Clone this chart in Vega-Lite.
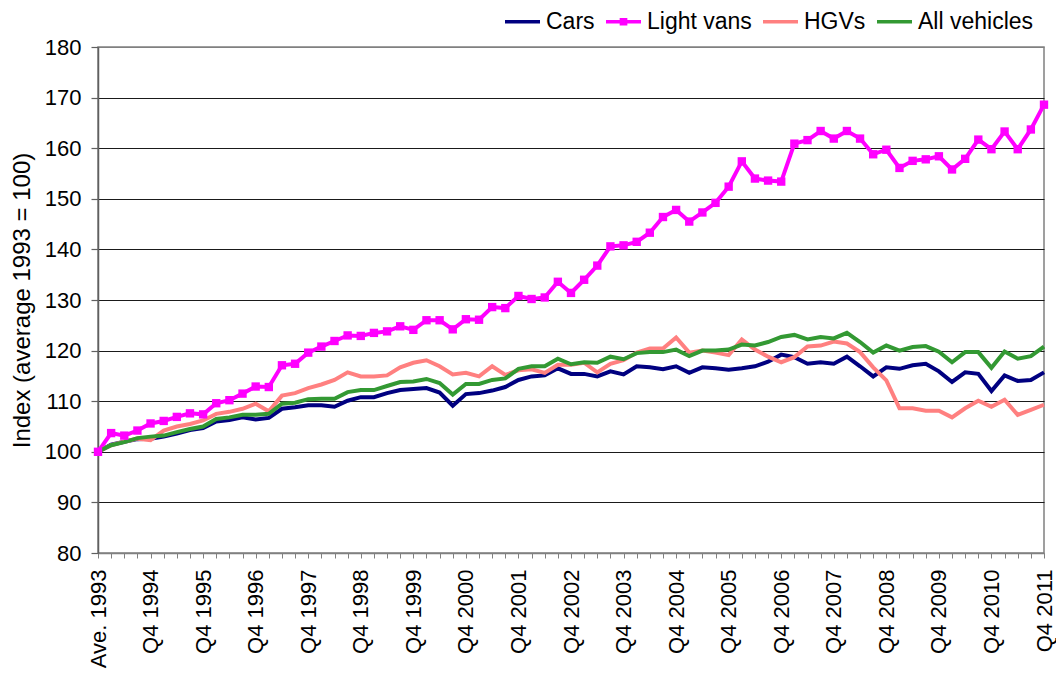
{
  "$schema": "https://vega.github.io/schema/vega-lite/v6.json",
  "width": 946,
  "height": 506,
  "autosize": "none",
  "padding": {"left": 98, "top": 47, "right": 12, "bottom": 120},
  "background": "white",
  "config": {"view": {"stroke": "#808080", "strokeWidth": 1.5}, "font": "Liberation Sans"},
  "data": {"values": [
    {"q": "Ave. 1993", "Cars": 100, "Light vans": 100, "HGVs": 100, "All vehicles": 100},
    {"q": "Q1 1994", "Cars": 101.4, "Light vans": 103.7, "HGVs": 101.3, "All vehicles": 101.3},
    {"q": "Q2 1994", "Cars": 102.0, "Light vans": 103.2, "HGVs": 102.0, "All vehicles": 101.9},
    {"q": "Q3 1994", "Cars": 102.5, "Light vans": 104.2, "HGVs": 102.6, "All vehicles": 102.7},
    {"q": "Q4 1994", "Cars": 102.6, "Light vans": 105.6, "HGVs": 102.3, "All vehicles": 103.0},
    {"q": "Q1 1995", "Cars": 103.0, "Light vans": 106.1, "HGVs": 104.2, "All vehicles": 103.2},
    {"q": "Q2 1995", "Cars": 103.6, "Light vans": 106.9, "HGVs": 105.0, "All vehicles": 103.9},
    {"q": "Q3 1995", "Cars": 104.3, "Light vans": 107.6, "HGVs": 105.5, "All vehicles": 104.5},
    {"q": "Q4 1995", "Cars": 104.7, "Light vans": 107.4, "HGVs": 106.2, "All vehicles": 105.0},
    {"q": "Q1 1996", "Cars": 106.0, "Light vans": 109.6, "HGVs": 107.5, "All vehicles": 106.5},
    {"q": "Q2 1996", "Cars": 106.3, "Light vans": 110.2, "HGVs": 107.9, "All vehicles": 106.8},
    {"q": "Q3 1996", "Cars": 106.8, "Light vans": 111.5, "HGVs": 108.5, "All vehicles": 107.3},
    {"q": "Q4 1996", "Cars": 106.4, "Light vans": 112.9, "HGVs": 109.5, "All vehicles": 107.3},
    {"q": "Q1 1997", "Cars": 106.7, "Light vans": 112.8, "HGVs": 108.0, "All vehicles": 107.5},
    {"q": "Q2 1997", "Cars": 108.5, "Light vans": 117.1, "HGVs": 111.1, "All vehicles": 109.5},
    {"q": "Q3 1997", "Cars": 108.8, "Light vans": 117.4, "HGVs": 111.6, "All vehicles": 109.7},
    {"q": "Q4 1997", "Cars": 109.2, "Light vans": 119.6, "HGVs": 112.6, "All vehicles": 110.4},
    {"q": "Q1 1998", "Cars": 109.2, "Light vans": 120.8, "HGVs": 113.3, "All vehicles": 110.5},
    {"q": "Q2 1998", "Cars": 108.9, "Light vans": 121.9, "HGVs": 114.2, "All vehicles": 110.5},
    {"q": "Q3 1998", "Cars": 110.1, "Light vans": 123.0, "HGVs": 115.7, "All vehicles": 111.8},
    {"q": "Q4 1998", "Cars": 110.8, "Light vans": 122.9, "HGVs": 114.9, "All vehicles": 112.2},
    {"q": "Q1 1999", "Cars": 110.8, "Light vans": 123.5, "HGVs": 114.9, "All vehicles": 112.2},
    {"q": "Q2 1999", "Cars": 111.6, "Light vans": 123.8, "HGVs": 115.1, "All vehicles": 113.0},
    {"q": "Q3 1999", "Cars": 112.2, "Light vans": 124.8, "HGVs": 116.7, "All vehicles": 113.8},
    {"q": "Q4 1999", "Cars": 112.4, "Light vans": 124.1, "HGVs": 117.6, "All vehicles": 113.9},
    {"q": "Q1 2000", "Cars": 112.6, "Light vans": 126.0, "HGVs": 118.1, "All vehicles": 114.4},
    {"q": "Q2 2000", "Cars": 111.7, "Light vans": 126.0, "HGVs": 116.9, "All vehicles": 113.6},
    {"q": "Q3 2000", "Cars": 109.1, "Light vans": 124.2, "HGVs": 115.3, "All vehicles": 111.3},
    {"q": "Q4 2000", "Cars": 111.4, "Light vans": 126.2, "HGVs": 115.6, "All vehicles": 113.4},
    {"q": "Q1 2001", "Cars": 111.6, "Light vans": 126.1, "HGVs": 114.9, "All vehicles": 113.4},
    {"q": "Q2 2001", "Cars": 112.1, "Light vans": 128.6, "HGVs": 116.9, "All vehicles": 114.2},
    {"q": "Q3 2001", "Cars": 112.8, "Light vans": 128.4, "HGVs": 115.2, "All vehicles": 114.5},
    {"q": "Q4 2001", "Cars": 114.2, "Light vans": 130.8, "HGVs": 116.1, "All vehicles": 116.4},
    {"q": "Q1 2002", "Cars": 114.9, "Light vans": 130.2, "HGVs": 116.3, "All vehicles": 116.9},
    {"q": "Q2 2002", "Cars": 115.1, "Light vans": 130.5, "HGVs": 115.6, "All vehicles": 116.9},
    {"q": "Q3 2002", "Cars": 116.5, "Light vans": 133.6, "HGVs": 117.2, "All vehicles": 118.4},
    {"q": "Q4 2002", "Cars": 115.4, "Light vans": 131.4, "HGVs": 117.2, "All vehicles": 117.3},
    {"q": "Q1 2003", "Cars": 115.4, "Light vans": 134.0, "HGVs": 117.6, "All vehicles": 117.7},
    {"q": "Q2 2003", "Cars": 114.9, "Light vans": 136.8, "HGVs": 115.7, "All vehicles": 117.6},
    {"q": "Q3 2003", "Cars": 115.9, "Light vans": 140.6, "HGVs": 117.4, "All vehicles": 118.8},
    {"q": "Q4 2003", "Cars": 115.3, "Light vans": 140.8, "HGVs": 118.1, "All vehicles": 118.3},
    {"q": "Q1 2004", "Cars": 116.9, "Light vans": 141.5, "HGVs": 119.6, "All vehicles": 119.5},
    {"q": "Q2 2004", "Cars": 116.7, "Light vans": 143.3, "HGVs": 120.4, "All vehicles": 119.7},
    {"q": "Q3 2004", "Cars": 116.3, "Light vans": 146.4, "HGVs": 120.4, "All vehicles": 119.7},
    {"q": "Q4 2004", "Cars": 116.9, "Light vans": 147.8, "HGVs": 122.6, "All vehicles": 120.2},
    {"q": "Q1 2005", "Cars": 115.6, "Light vans": 145.5, "HGVs": 119.6, "All vehicles": 118.9},
    {"q": "Q2 2005", "Cars": 116.7, "Light vans": 147.3, "HGVs": 120.0, "All vehicles": 120.0},
    {"q": "Q3 2005", "Cars": 116.5, "Light vans": 149.2, "HGVs": 119.6, "All vehicles": 120.0},
    {"q": "Q4 2005", "Cars": 116.2, "Light vans": 152.4, "HGVs": 119.1, "All vehicles": 120.2},
    {"q": "Q1 2006", "Cars": 116.5, "Light vans": 157.4, "HGVs": 122.2, "All vehicles": 121.2},
    {"q": "Q2 2006", "Cars": 116.9, "Light vans": 154.0, "HGVs": 120.2, "All vehicles": 121.0},
    {"q": "Q3 2006", "Cars": 117.8, "Light vans": 153.6, "HGVs": 118.8, "All vehicles": 121.7},
    {"q": "Q4 2006", "Cars": 119.2, "Light vans": 153.4, "HGVs": 117.7, "All vehicles": 122.7},
    {"q": "Q1 2007", "Cars": 118.7, "Light vans": 160.9, "HGVs": 118.7, "All vehicles": 123.1},
    {"q": "Q2 2007", "Cars": 117.4, "Light vans": 161.6, "HGVs": 120.8, "All vehicles": 122.2},
    {"q": "Q3 2007", "Cars": 117.7, "Light vans": 163.4, "HGVs": 121.0, "All vehicles": 122.7},
    {"q": "Q4 2007", "Cars": 117.4, "Light vans": 161.9, "HGVs": 121.8, "All vehicles": 122.4},
    {"q": "Q1 2008", "Cars": 118.8, "Light vans": 163.4, "HGVs": 121.4, "All vehicles": 123.5},
    {"q": "Q2 2008", "Cars": 116.9, "Light vans": 161.9, "HGVs": 119.7, "All vehicles": 121.7},
    {"q": "Q3 2008", "Cars": 114.9, "Light vans": 158.8, "HGVs": 116.7, "All vehicles": 119.6},
    {"q": "Q4 2008", "Cars": 116.7, "Light vans": 159.7, "HGVs": 114.1, "All vehicles": 121.0},
    {"q": "Q1 2009", "Cars": 116.4, "Light vans": 156.1, "HGVs": 108.6, "All vehicles": 120.0},
    {"q": "Q2 2009", "Cars": 117.1, "Light vans": 157.5, "HGVs": 108.6, "All vehicles": 120.7},
    {"q": "Q3 2009", "Cars": 117.4, "Light vans": 157.8, "HGVs": 108.1, "All vehicles": 120.9},
    {"q": "Q4 2009", "Cars": 115.9, "Light vans": 158.4, "HGVs": 108.1, "All vehicles": 119.8},
    {"q": "Q1 2010", "Cars": 113.8, "Light vans": 155.8, "HGVs": 106.8, "All vehicles": 117.7},
    {"q": "Q2 2010", "Cars": 115.7, "Light vans": 157.9, "HGVs": 108.6, "All vehicles": 119.7},
    {"q": "Q3 2010", "Cars": 115.4, "Light vans": 161.7, "HGVs": 110.1, "All vehicles": 119.7},
    {"q": "Q4 2010", "Cars": 112.0, "Light vans": 159.8, "HGVs": 108.9, "All vehicles": 116.6},
    {"q": "Q1 2011", "Cars": 115.1, "Light vans": 163.3, "HGVs": 110.3, "All vehicles": 119.8},
    {"q": "Q2 2011", "Cars": 114.0, "Light vans": 159.8, "HGVs": 107.3, "All vehicles": 118.4},
    {"q": "Q3 2011", "Cars": 114.2, "Light vans": 163.7, "HGVs": 108.3, "All vehicles": 118.9},
    {"q": "Q4 2011", "Cars": 115.7, "Light vans": 168.6, "HGVs": 109.3, "All vehicles": 120.8}
  ]},
  "transform": [{"fold": ["Cars", "Light vans", "HGVs", "All vehicles"], "as": ["series", "value"]}],
  "encoding": {
    "x": {
      "field": "q", "type": "ordinal", "sort": null,
      "scale": {"type": "point", "padding": 0},
      "axis": {
        "title": null, "labelAngle": -90, "labelAlign": "right", "labelBaseline": "middle",
        "labelExpr": "(indexof(datum.label, 'Q4') == 0 || indexof(datum.label, 'Ave') == 0) ? datum.label : ''",
        "labelFontSize": 22, "labelFont": "Liberation Sans", "labelColor": "black",
        "labelPadding": 11, "labelOverlap": false, "labelBound": false, "labelFlush": false,
        "tickColor": "#808080", "tickSize": 5, "tickWidth": 1,
        "domainColor": "#808080", "domainWidth": 1.5, "grid": false
      }
    },
    "y": {
      "field": "value", "type": "quantitative",
      "scale": {"domain": [80, 180], "nice": false, "zero": false},
      "axis": {
        "title": "Index (average 1993 = 100)",
        "values": [80, 90, 100, 110, 120, 130, 140, 150, 160, 170, 180],
        "titleFontSize": 24, "titleFont": "Liberation Sans", "titleFontWeight": "normal", "titleColor": "black", "titlePadding": 10,
        "labelFontSize": 22, "labelFont": "Liberation Sans", "labelColor": "black", "labelPadding": 10,
        "gridColor": {"condition": {"test": "datum.value === 180 || datum.value === 80", "value": "#808080"}, "value": "#1a1a1a"},
        "gridWidth": 1.2,
        "domainColor": "#606060", "domainWidth": 1.5,
        "tickColor": "#606060", "tickSize": 7, "tickWidth": 1.2
      }
    },
    "color": {
      "field": "series", "type": "nominal",
      "scale": {"domain": ["Cars", "Light vans", "HGVs", "All vehicles"], "range": ["#000080", "#FF00FF", "#FF8080", "#339933"]},
      "legend": {
        "orient": "none", "legendX": 405, "legendY": -45, "direction": "horizontal", "title": null,
        "labelFontSize": 23, "labelFont": "Liberation Sans", "labelColor": "black",
        "symbolType": "stroke", "symbolStrokeWidth": 3.5, "symbolSize": 1225,
        "labelOffset": 4, "columnPadding": 4,
        "encode": {"symbols": {"update": {
          "shape": {"signal": "datum.value === 'Light vans' ? 'M-1,0H1M-0.12,-0.12H0.12V0.12H-0.12Z' : 'M-1,0H1'"},
          "fill": {"signal": "datum.value === 'Light vans' ? '#FF00FF' : 'transparent'"},
          "opacity": {"value": 1}
        }}}
      }
    }
  },
  "layer": [
    {"mark": {"type": "line", "strokeWidth": 4}},
    {
      "transform": [{"filter": "datum.series === 'Light vans'"}],
      "mark": {"type": "square", "size": 70, "opacity": 1, "filled": true}
    }
  ]
}
